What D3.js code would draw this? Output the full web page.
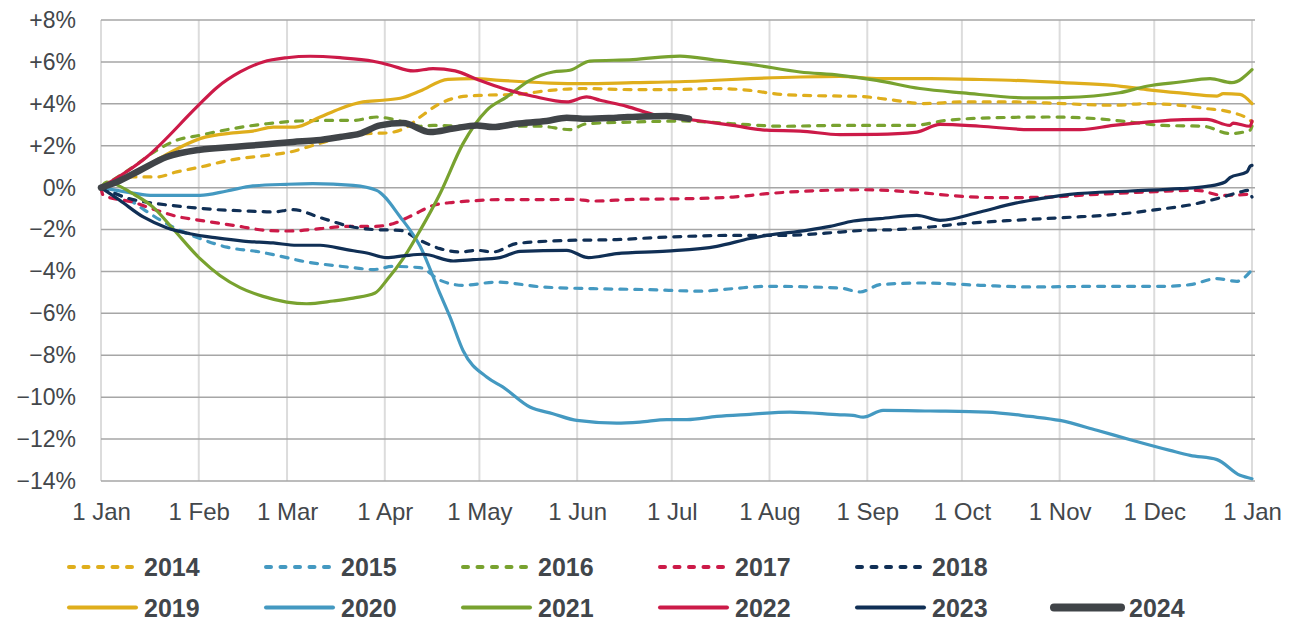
<!DOCTYPE html>
<html>
<head>
<meta charset="utf-8">
<script src="https://cdn.jsdelivr.net/npm/d3@7"></script>
<style>
  body { margin: 0; background: #fff; }
  text { font-family: "Liberation Sans", Arial, sans-serif; fill: #43474b; }
</style>
</head>
<body>
<svg class="chart"></svg>
<script>
// day-of-year vs % change since 1 Jan, one array per year

var months = ["1 Jan", "1 Feb", "1 Mar", "1 Apr", "1 May", "1 Jun", "1 Jul", "1 Aug", "1 Sep", "1 Oct", "1 Nov", "1 Dec", "1 Jan"];
var monthDays = [0, 31, 59, 90, 120, 151, 181, 212, 243, 273, 304, 334, 365];
var yTicks = [8, 6, 4, 2, 0, -2, -4, -6, -8, -10, -12, -14];

var y2014 = [[0,0],[10,0.51],[17.6,0.51],[24,0.75],[31.4,0.98],[41.9,1.34],[52.6,1.54],[59.9,1.7],[68.4,2.07],[76.8,2.42],[84.3,2.58],[90.6,2.61],[97,2.89],[101.2,3.37],[107.5,4.01],[113.9,4.33],[121.2,4.41],[131.8,4.45],[142.4,4.64],[152.9,4.73],[168.7,4.68],[181.4,4.68],[195.3,4.73],[205.8,4.64],[216.3,4.44],[234.4,4.37],[239.7,4.36],[250.2,4.2],[260.7,4.01],[273.4,4.09],[289.3,4.09],[305.1,4.01],[321,3.93],[331.6,4.01],[342.2,3.93],[350.7,3.77],[358,3.61],[364.4,3.21],[365,3.13]];
var y2015 = [[0,0],[10.1,-0.69],[15.5,-1.24],[22.8,-1.88],[31.4,-2.43],[39.9,-2.84],[50.4,-3.07],[58.9,-3.34],[65.2,-3.55],[73.6,-3.71],[80,-3.82],[86.3,-3.91],[92.6,-3.76],[101.2,-3.82],[107.5,-4.42],[114.8,-4.66],[125.4,-4.51],[140,-4.74],[156,-4.82],[174,-4.87],[190,-4.94],[200.4,-4.82],[211.1,-4.71],[234.4,-4.79],[240.7,-4.98],[247.1,-4.63],[260.7,-4.55],[278.8,-4.66],[294.6,-4.74],[315.8,-4.71],[336.8,-4.71],[345.4,-4.63],[353.9,-4.34],[360.2,-4.47],[365,-3.91]];
var y2016 = [[0,0],[10.1,0.98],[17.6,1.78],[24,2.26],[31.4,2.5],[41.9,2.82],[52.6,3.05],[63.1,3.18],[73.6,3.21],[80,3.21],[87.4,3.37],[94.9,3.18],[101.2,2.93],[105.3,2.97],[115.9,2.93],[126.5,2.93],[139.2,2.93],[148.7,2.77],[154,3.05],[168.7,3.13],[184.6,3.18],[200.4,3.05],[216.3,2.93],[234.4,2.97],[241.7,2.97],[257.5,2.97],[268.2,3.21],[284.1,3.34],[300,3.37],[315.8,3.29],[326.4,3.13],[336.8,2.97],[349.5,2.93],[358,2.58],[364.4,2.74],[365,2.93]];
var y2017 = [[0,0],[0.7,-0.37],[10.1,-0.69],[17.6,-1.08],[24,-1.37],[31.4,-1.56],[41.9,-1.8],[52.6,-2.04],[59.9,-2.07],[69.5,-1.96],[77.9,-1.85],[86.3,-1.85],[92.6,-1.72],[99,-1.3],[105.3,-0.85],[111.7,-0.7],[116.6,-0.64],[126.5,-0.57],[142.4,-0.57],[149.7,-0.56],[156,-0.64],[168.7,-0.56],[184.6,-0.53],[200.4,-0.45],[211.1,-0.29],[221.7,-0.18],[241.7,-0.1],[257.5,-0.21],[273.4,-0.42],[284.1,-0.48],[300,-0.45],[315.8,-0.32],[331.6,-0.21],[347.5,-0.13],[355.7,-0.37],[363.4,-0.32],[365,-0.1]];
var y2018 = [[0,0],[10.1,-0.57],[17.6,-0.76],[27.2,-0.93],[36.7,-1.05],[47.2,-1.12],[54.6,-1.16],[60.9,-1.05],[69.5,-1.43],[79,-1.85],[86.3,-2],[94.9,-2.04],[101.2,-2.52],[107.5,-2.91],[113.9,-3.07],[119.2,-2.99],[124.3,-3.07],[131.8,-2.67],[147.7,-2.52],[163.5,-2.48],[179.4,-2.36],[200.4,-2.28],[216.3,-2.28],[234.4,-2.12],[241.7,-2.04],[252.4,-2],[262.9,-1.88],[273.4,-1.72],[289.3,-1.56],[305.1,-1.43],[321,-1.29],[334.8,-1.05],[347.5,-0.76],[355.7,-0.45],[361.2,-0.21],[363.8,-0.13],[365,-0.45]];
var y2019 = [[0,0],[10.1,0.67],[20.8,1.59],[31.4,2.34],[41.9,2.61],[48.2,2.7],[54.6,2.89],[61.5,2.89],[69.5,3.37],[75.8,3.77],[83.1,4.09],[89.4,4.17],[95.8,4.3],[101.2,4.61],[110,5.17],[118,5.2],[126.5,5.12],[142.4,4.99],[152.9,4.96],[168.7,5.01],[190,5.09],[205.8,5.2],[221.7,5.28],[234.4,5.31],[247.1,5.2],[262.9,5.2],[278.8,5.16],[294.6,5.09],[305.1,5.01],[321,4.88],[331.6,4.68],[342.2,4.52],[353.9,4.37],[355.9,4.49],[361.2,4.45],[365,4.01]];
var y2020 = [[0,0],[10.1,-0.26],[16.5,-0.37],[24,-0.37],[31.4,-0.37],[39.9,-0.16],[48.2,0.08],[58.9,0.16],[67.2,0.19],[80,0.11],[87.4,-0.13],[94.9,-1.4],[101.2,-2.8],[107.5,-5.06],[110.7,-6.18],[114.8,-7.77],[122.3,-9.04],[127.5,-9.52],[136,-10.47],[143.3,-10.79],[150.9,-11.11],[163.5,-11.24],[170.9,-11.19],[179.4,-11.07],[185.8,-11.07],[195.3,-10.92],[205.8,-10.82],[218.5,-10.71],[234.4,-10.84],[238.5,-10.87],[241.7,-10.95],[248,-10.63],[262.9,-10.66],[280.9,-10.71],[294.6,-10.92],[304.1,-11.11],[315.8,-11.58],[326.4,-12.03],[339,-12.54],[345.4,-12.78],[353.9,-12.98],[361.2,-13.73],[365,-13.89]];
var y2021 = [[0,0],[1.8,0.27],[10.1,-0.29],[16.5,-0.93],[22.8,-1.96],[31.4,-3.39],[37.7,-4.19],[44.1,-4.77],[51.4,-5.19],[58.9,-5.46],[65.2,-5.54],[73.6,-5.41],[80,-5.27],[86.9,-5.03],[90.6,-4.42],[95.8,-3.39],[101.2,-2.04],[107.5,-0.29],[114.8,2.1],[122.3,3.69],[128.7,4.33],[136,5.12],[143.3,5.52],[148.7,5.6],[155,6.04],[168.7,6.11],[183.6,6.28],[195.3,6.08],[205.8,5.89],[221.7,5.52],[234.4,5.36],[246,5.12],[259.7,4.73],[273.4,4.52],[294.6,4.28],[305.1,4.3],[323,4.53],[331.6,4.84],[342.2,5.04],[351.7,5.2],[358.6,5.01],[365,5.63]];
var y2022 = [[0,0],[14.5,1.46],[30.4,3.85],[36.7,4.77],[44.1,5.52],[51.4,6],[58.9,6.2],[66.3,6.27],[75.8,6.2],[86.3,6.03],[91.7,5.84],[99,5.57],[105.3,5.68],[112.3,5.57],[119.2,5.17],[127.5,4.73],[137,4.36],[147.7,4.09],[154,4.33],[158.3,4.17],[166.7,3.88],[176.2,3.45],[186.5,3.25],[200.4,2.97],[211.1,2.74],[221.7,2.7],[234.4,2.53],[246,2.54],[258.7,2.65],[266.1,3.02],[278.8,2.93],[294.6,2.77],[310.5,2.77],[321,2.97],[331.6,3.13],[343.2,3.25],[350.7,3.26],[358,2.97],[359,3.08],[364.4,2.93],[365,3.18]];
var y2023 = [[0,0],[6,-0.61],[13.4,-1.4],[20.8,-1.91],[28.2,-2.2],[36.7,-2.4],[45.1,-2.55],[54.6,-2.64],[62.1,-2.75],[69.5,-2.75],[77.9,-2.96],[84.3,-3.12],[90.6,-3.34],[95.8,-3.26],[102.2,-3.18],[111.7,-3.5],[118,-3.44],[126.5,-3.34],[132.9,-3.04],[147.7,-2.99],[154.6,-3.34],[163.5,-3.15],[179.4,-3.03],[195.3,-2.8],[205.8,-2.43],[211.1,-2.28],[223.8,-2.04],[231.2,-1.85],[238.6,-1.59],[247.1,-1.48],[258.7,-1.32],[266.1,-1.56],[278.8,-1.16],[289.3,-0.76],[294.6,-0.61],[307.3,-0.32],[326.4,-0.16],[342.2,-0.05],[350.7,0.06],[356.5,0.27],[358,0.48],[363.4,0.75],[364.4,1.02],[365,1.06]];
var y2024 = [[0,0],[5,0.27],[12.4,0.83],[20.8,1.46],[31.4,1.81],[41.9,1.94],[52.6,2.07],[60.9,2.18],[68.4,2.26],[75.8,2.42],[82.1,2.58],[88.5,2.97],[95.8,3.08],[104.4,2.65],[111.7,2.82],[119.2,2.97],[124.3,2.89],[131.8,3.05],[141.3,3.18],[147.7,3.34],[154,3.29],[163.5,3.34],[171.9,3.4],[179.4,3.42],[186.5,3.29]];

var series = [
  { name: "2014", values: y2014, color: "#dfae1c", dash: true, width: 3.2 },
  { name: "2015", values: y2015, color: "#4499c1", dash: true, width: 3.2 },
  { name: "2016", values: y2016, color: "#78a22f", dash: true, width: 3.2 },
  { name: "2017", values: y2017, color: "#cc1a48", dash: true, width: 3.2 },
  { name: "2018", values: y2018, color: "#102f55", dash: true, width: 3.2 },
  { name: "2019", values: y2019, color: "#dfae1c", dash: false, width: 3.2 },
  { name: "2020", values: y2020, color: "#4499c1", dash: false, width: 3.2 },
  { name: "2021", values: y2021, color: "#78a22f", dash: false, width: 3.2 },
  { name: "2022", values: y2022, color: "#cc1a48", dash: false, width: 3.2 },
  { name: "2023", values: y2023, color: "#102f55", dash: false, width: 3.2 },
  { name: "2024", values: y2024, color: "#404448", dash: false, width: 6.5 }
];

var W = 1297, H = 622;
var font = '"Liberation Sans", Arial, sans-serif';
var chart = d3.select(".chart").attr("width", W).attr("height", H);

var x = d3.scaleLinear().domain([0, 365]).range([101, 1252]);
var y = d3.scaleLinear().domain([-14, 8]).range([481, 20]);

// vertical month gridlines
chart.append("g").selectAll("line")
  .data(monthDays)
  .enter().append("line")
  .attr("x1", function(d) { return x(d) }).attr("x2", function(d) { return x(d) })
  .attr("y1", y(8)).attr("y2", y(-14))
  .style("stroke", "#dcdcdc").style("stroke-width", 2);

// horizontal gridlines
chart.append("g").selectAll("line")
  .data(yTicks)
  .enter().append("line")
  .attr("x1", x(0)).attr("x2", x(365) + 3)
  .attr("y1", function(d) { return y(d) }).attr("y2", function(d) { return y(d) })
  .style("stroke", "#a6a6a6").style("stroke-width", 1.5);

// y axis labels
var yAxis = d3.axisLeft(y).tickValues(yTicks).tickSize(0).tickPadding(0)
  .tickFormat(function(d) { return d > 0 ? "+" + d + "%" : d < 0 ? "\u2212" + Math.abs(d) + "%" : "0%" });
var ya = chart.append("g").attr("transform", "translate(76,0)").call(yAxis);
ya.select(".domain").remove();
ya.selectAll("text").style("font-size", "23px").style("font-family", font).style("fill", "#43474b");

// x axis labels
var xAxis = d3.axisBottom(x).tickValues(monthDays).tickSize(0).tickPadding(0)
  .tickFormat(function(d, i) { return months[i] });
var xa = chart.append("g").attr("transform", "translate(0,503)").call(xAxis);
xa.select(".domain").remove();
xa.selectAll("text").style("font-size", "24px").style("font-family", font).style("fill", "#43474b");

var line = d3.line()
  .x(function(d) { return x(d[0]) })
  .y(function(d) { return y(d[1]) })
  .curve(d3.curveMonotoneX);

chart.append("g").selectAll("path")
  .data(series)
  .enter().append("path")
  .attr("d", function(d) { return line(d.values) })
  .style("fill", "none")
  .style("stroke", function(d) { return d.color })
  .style("stroke-width", function(d) { return d.width })
  .style("stroke-dasharray", function(d) { return d.dash ? "7,8" : null })
  .style("stroke-linejoin", "round")
  .style("stroke-linecap", "round");

// legend, two rows
var legend = chart.append("g").selectAll("g")
  .data(series)
  .enter().append("g")
  .attr("transform", function(d, i) {
    var col = i < 5 ? i : i - 5, row = i < 5 ? 0 : 1;
    return "translate(" + (69 + col * 197) + "," + (567 + row * 40.5) + ")";
  });

legend.append("line")
  .attr("x1", 0).attr("x2", 67).attr("y1", 0).attr("y2", 0)
  .style("stroke", function(d) { return d.color })
  .style("stroke-width", function(d) { return d.width < 5 ? 4 : 8 })
  .style("stroke-dasharray", function(d) { return d.dash ? "5,9.5" : null })
  .style("stroke-linecap", "round");

legend.append("text")
  .attr("x", 75).attr("y", 9)
  .style("font-size", "25px").style("font-weight", "bold")
  .style("font-family", font).style("fill", "#41464b")
  .text(function(d) { return d.name });
</script>
</body>
</html>
